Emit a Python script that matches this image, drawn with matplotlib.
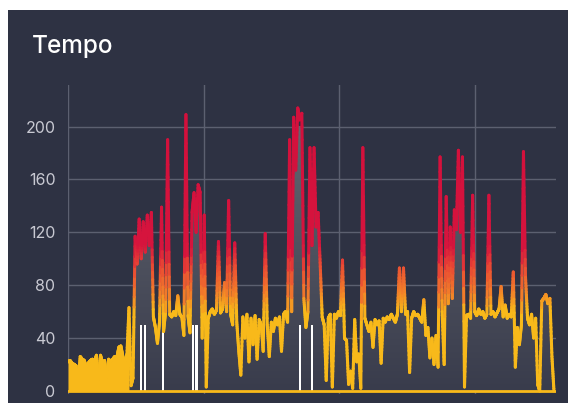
import matplotlib
matplotlib.use('Agg')
import matplotlib.pyplot as plt
import numpy as np
from matplotlib.collections import LineCollection
from matplotlib.colors import LinearSegmentedColormap, Normalize, to_rgb
from matplotlib.patches import Rectangle

# tempo samples, one every 0.15 min (9 s)
bpm = [22, 23, 21, 20, 19, 6, 26, 24, 23, 18,
       21, 23, 24, 22, 27, 8, 27, 21, 23, 10,
       24, 22, 24, 26, 25, 33, 34, 26, 20, 28,
       63, 4, 10, 117, 96, 130, 100, 128, 105, 133,
       110, 135, 56, 48, 36, 52, 139, 45, 60, 190,
       58, 56, 60, 57, 72, 58, 56, 42, 209, 57,
       44, 135, 150, 120, 156, 150, 40, 133, 3, 55,
       60, 62, 58, 61, 113, 59, 62, 82, 60, 144,
       58, 50, 112, 52, 30, 12, 56, 40, 58, 22,
       55, 35, 57, 24, 54, 50, 30, 119, 50, 26,
       52, 45, 55, 50, 56, 30, 58, 60, 52, 190,
       60, 207, 167, 214, 205, 210, 70, 48, 60, 184,
       110, 184, 124, 135, 97, 56, 50, 8, 55, 58,
       3, 58, 55, 60, 57, 99, 40, 38, 5, 15,
       2, 54, 22, 28, 2, 184, 55, 50, 45, 52,
       33, 54, 50, 53, 21, 55, 52, 56, 54, 58,
       55, 52, 58, 93, 60, 93, 58, 60, 14, 55,
       60, 57, 58, 55, 52, 69, 42, 48, 25, 40,
       20, 42, 18, 177, 60, 20, 147, 66, 124, 70,
       137, 122, 182, 120, 177, 3, 57, 58, 55, 148,
       60, 57, 62, 58, 60, 55, 58, 148, 58, 60,
       56, 59, 62, 79, 56, 65, 55, 58, 56, 90,
       18, 48, 35, 50, 181, 86, 55, 50, 58, 40,
       55, 5, 0, 68, 70, 73, 66, 70, 26, 0]
step_min = 0.15
warmup_n = 31   # first samples, drawn as a solid yellow band

# white markers (minutes, height)
marker_t = [5.39, 5.68, 7.01, 9.22, 9.48, 17.12, 18.0]
marker_h = [50, 50, 50, 50, 50, 50, 50]

y_ticks = [0, 40, 80, 120, 160, 200]
x_grid = [0, 10, 20, 30]

bg = '#2e3243'
yellow = '#f8b91a'
t = np.arange(len(bpm)) * step_min
y = np.array(bpm, dtype=float)

fig = plt.figure(figsize=(5.68, 4.03), dpi=100)
fig.patch.set_facecolor(bg)
# white margins at the top and left
fig.add_artist(Rectangle((0, 1 - 10/403), 1, 10/403, transform=fig.transFigure,
                         facecolor='white', edgecolor='none', zorder=-5))
fig.add_artist(Rectangle((0, 0), 8/568, 1, transform=fig.transFigure,
                         facecolor='white', edgecolor='none', zorder=-5))

ax = fig.add_axes([68/568, 9/403, 488/568, 309/403])
ax.set_facecolor(bg)
ax.set_xlim(0, 36)
ax.set_ylim(-2.3, 231.4)

for s in ax.spines.values():
    s.set_visible(False)

for v in y_ticks[1:]:
    ax.axhline(v, color='#5c6070', lw=1, zorder=1)
for v in x_grid:
    ax.axvline(v, color='#5c6070', lw=1, zorder=1)

# gradient fill under the line
fill = ax.fill_between(t, 0, y, color='none', lw=0)
c_top = np.array(to_rgb('#62656f'))
c_bot = np.array(to_rgb('#393c4c'))
g = np.linspace(0, 1, 256)[:, None]
img = c_bot + (c_top - c_bot) * g[:, :, None] * np.ones((1, 2, 1))
im = ax.imshow(img, extent=[0, 36, 0, 200], origin='lower', aspect='auto', zorder=2)
im.set_clip_path(fill.get_paths()[0], transform=ax.transData)

ax.fill_between(t[:warmup_n], 0, y[:warmup_n], color=yellow, lw=0, zorder=2.5)

ax.bar(marker_t, marker_h, width=0.16, color='white', zorder=3)

# line colored by value
cmap = LinearSegmentedColormap.from_list('tempo', [
    (0.0, yellow), (62/230, yellow), (78/230, '#f17a2a'),
    (95/230, '#ea4d33'), (112/230, '#d6143d'), (1.0, '#d20f3c')])
norm = Normalize(0, 230)
n = 14
segs = []
vals = []
for i in range(len(t) - 1):
    xx = np.linspace(t[i], t[i + 1], n + 1)
    yy = np.linspace(y[i], y[i + 1], n + 1)
    for k in range(n):
        segs.append([(xx[k], yy[k]), (xx[k + 1], yy[k + 1])])
        vals.append(max(yy[k], yy[k + 1]))
lc = LineCollection(segs, colors=cmap(norm(vals)), linewidths=2.2,
                    capstyle='round', joinstyle='round', zorder=4)
ax.add_collection(lc)

ax.axhline(0, color=yellow, lw=2.0, zorder=5)

ax.set_yticks(y_ticks)
ax.set_yticklabels([str(v) for v in y_ticks], fontsize=11.5, color='#c8c9d2',
                   family=['Inter', 'DejaVu Sans'])
ax.tick_params(axis='y', length=0, pad=9)
ax.set_xticks([])

fig.text(32/568, 1 - 46/403, 'Tempo', fontsize=17.5, color='white', va='center',
         ha='left', family=['Inter', 'DejaVu Sans'], fontweight='medium')

fig.savefig('out.png', dpi=100, facecolor=fig.get_facecolor())
